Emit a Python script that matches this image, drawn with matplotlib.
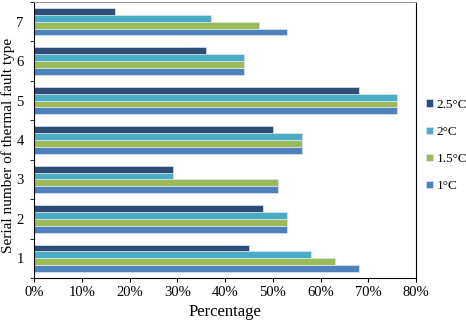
import numpy as np
import matplotlib
matplotlib.use("Agg")
import matplotlib.pyplot as plt
from matplotlib.ticker import PercentFormatter

plt.rcParams['font.family'] = ['Liberation Serif', 'DejaVu Serif']

# data (percent)
types = [1, 2, 3, 4, 5, 6, 7]
t1 = [68, 53, 51, 56, 76, 44, 53]    # 1°C
t15 = [63, 53, 51, 56, 76, 44, 47]   # 1.5°C
t2 = [58, 53, 29, 56, 76, 44, 37]    # 2°C
t25 = [45, 48, 29, 50, 68, 36, 17]   # 2.5°C

series = [("1°C", t1, "#4F81BD"), ("1.5°C", t15, "#9BBB59"),
          ("2°C", t2, "#4BACC6"), ("2.5°C", t25, "#2C4D75")]

fig = plt.figure(figsize=(4.66, 3.2), dpi=100)
ax = fig.add_axes([0.073, 0.131, 0.82, 0.863])

y = np.arange(len(types)) + 1
h = 0.175
handles = []
for i, (name, vals, col) in enumerate(series):
    b = ax.barh(y + (i - 1.5) * h, vals, height=h, color=col,
                edgecolor="#dbe6f3", linewidth=0.5, label=name)
    handles.append(b)

ax.set_xlim(0, 80)
ax.set_ylim(0.5, 7.5)
ax.set_xticks(np.arange(0, 81, 10))
ax.xaxis.set_major_formatter(PercentFormatter(decimals=0))
ax.set_yticks(y)
ax.set_yticklabels([str(t) for t in types])
ax.set_yticks(np.arange(0.5, 7.6, 1), minor=True)
ax.tick_params(axis='y', which='major', length=0, labelsize=10.5, pad=7.5)
ax.tick_params(axis='y', which='minor', length=3, direction='out')
ax.tick_params(axis='x', length=3, direction='out', labelsize=10.5, pad=3)
ax.spines['top'].set_color('#999999')
for s in ax.spines.values():
    s.set_linewidth(0.8)

ax.set_xlabel("Percentage", fontsize=12, labelpad=3)
# y label placed in figure coords so it fits the left margin
fig.text(0.003, 0.545, "Serial number of thermal fault type", fontsize=11,
         rotation=90, ha='left', va='center')

leg = fig.legend(handles[::-1], [s[0] for s in series][::-1],
                 loc='center left', bbox_to_anchor=(0.915, 0.545),
                 frameon=False, fontsize=9.5, handlelength=0.5, handleheight=0.5,
                 handletextpad=0.25, labelspacing=1.15, borderaxespad=0,
                 borderpad=0)

fig.savefig("out.png", dpi=100)
